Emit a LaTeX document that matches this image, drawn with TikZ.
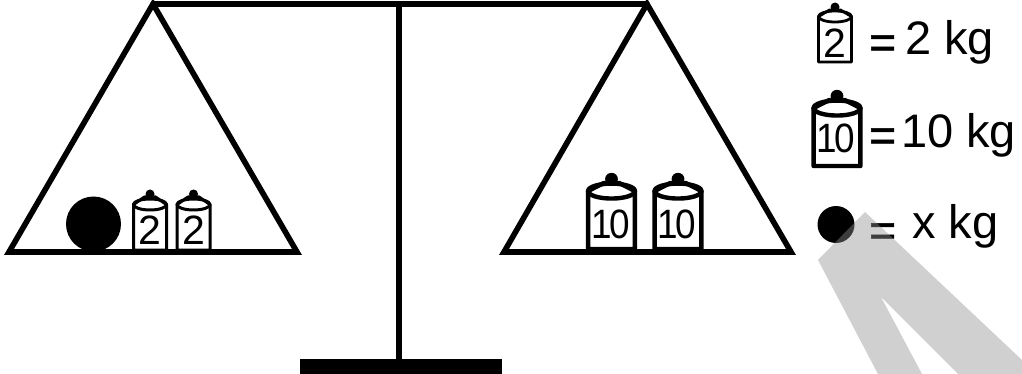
\documentclass[tikz,border=0pt]{standalone}
\usepackage{fontspec}
\setmainfont{Liberation Sans}
\newcommand{\wgt}[8]{% cx, bottom, scale x, scale y, line width, knob radius, ellipse y, knob y
  \begin{scope}[shift={(#1,#2)},xscale=#3,yscale=#4,line width=#5,line join=round]
    \draw[fill=white] (-16.5,0) -- (-16.5,#7) -- (-5.5,#8+3) -- (5.5,#8+3) -- (16.5,#7) -- (16.5,0) -- cycle;
    \draw (0,#7) ellipse (16.5 and 5.5);
    \fill (0,#8) circle (#6);
  \end{scope}
}
\tikzset{
  bar/.style={line width=5.6pt,line join=miter,line cap=round},
  wlabel/.style={anchor=base,inner sep=0pt,font=\fontsize{41}{41}\selectfont},
  wlabelten/.style={anchor=base,inner sep=0pt,font=\fontsize{41}{41}\selectfont\addfontfeature{FakeStretch=0.9,LetterSpace=-7}},
  legend/.style={anchor=base west,inner sep=0pt,font=\fontsize{47}{47}\selectfont},
  equal/.style={anchor=base west,inner sep=0pt,font=\fontsize{46}{46}\selectfont\addfontfeature{FakeBold=1.2}}
}
\begin{document}
\begin{tikzpicture}[x=1pt,y=-1pt]
\useasboundingbox (0,0) rectangle (1022,374);
\coordinate (la) at (153,4);
\coordinate (ll) at (9,252);
\coordinate (lr) at (297,252);
\coordinate (ra) at (647,4);
\coordinate (rl) at (504,252);
\coordinate (rr) at (791,252);
\coordinate (pt) at (399,4);
\coordinate (pb) at (399,362);
\fill (300,359) rectangle (502,374);
\draw[bar] (pt) -- (pb);
\draw[bar] (la) -- (ra);
\draw[bar] (ra) -- (rl) -- (rr) -- cycle;
\draw[bar] (la) -- (ll) -- (lr) -- cycle;
\fill (93.5,224) circle (27.5);
\fill (836,224.5) circle (18.5);
\wgt{150}{250}{1}{1}{3pt}{4.5}{-45.5}{-56}
\wgt{193.5}{250}{1}{1}{3pt}{4.5}{-45.5}{-56}
\wgt{835}{62}{1}{1}{2.8pt}{4.5}{-45.5}{-55}
\wgt{611.5}{249}{1.42}{1.36}{4.4pt}{4.5}{-42.6}{-51.5}
\wgt{678}{249}{1.42}{1.36}{4.4pt}{4.5}{-42.6}{-51.5}
\wgt{837}{166}{1.42}{1.36}{4.4pt}{4.5}{-42.6}{-51.5}
\node[wlabel] (at) at (150,244) {2};
\node[wlabel] (bt) at (193.5,244) {2};
\node[wlabel] (ct) at (835,58) {2};
\node[wlabelten] (dt) at (610.5,238) {10};
\node[wlabelten] (et) at (677,238) {10};
\node[wlabelten] (ft) at (836,153) {10};
\node[equal] (e1) at (869,58) {=};
\node[equal] (e2) at (869,151) {=};
\node[equal] (e3) at (869,246) {=};
\node[legend] (t1) at (905,55) {2 kg};
\node[legend] (t2) at (901,148) {10 kg};
\node[legend] (t3) at (912,238) {x kg};
\fill[fill={rgb,255:red,143;green,143;blue,143},fill opacity=0.42]
  (865,212) -- (1022,360) -- (1022,374) -- (958,374) -- (881,297) -- (922,374) -- (878,374) -- (818,260) -- cycle;
\end{tikzpicture}
\end{document}
